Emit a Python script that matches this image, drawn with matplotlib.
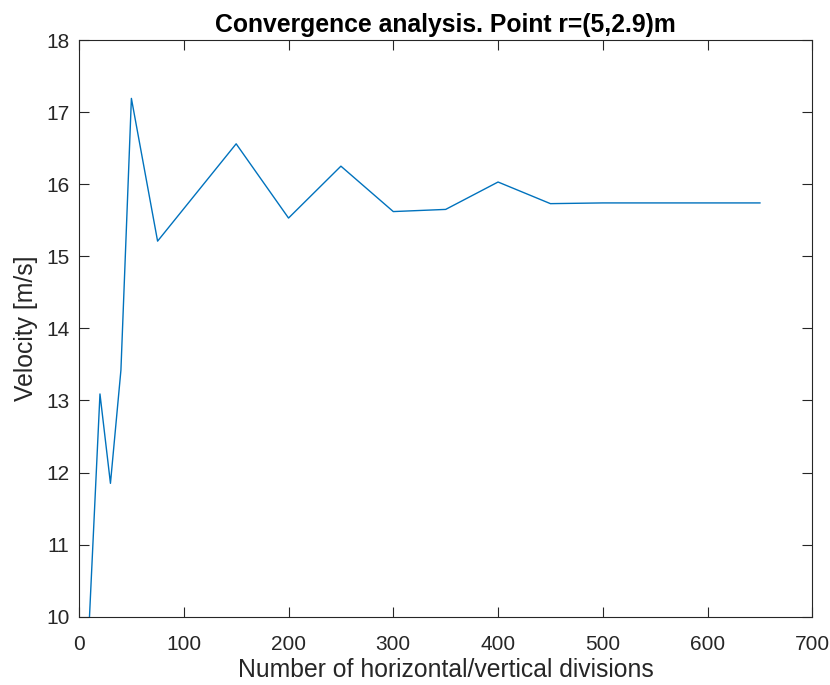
import matplotlib
matplotlib.use("Agg")
import matplotlib.pyplot as plt

# Mesh refinement study: velocity at r=(5,2.9)m vs. number of divisions
divisions = [10, 20, 30, 40, 50, 75, 150, 200, 250, 300, 350, 400, 450, 500, 650]
velocity = [10.0, 13.09, 11.85, 13.42, 17.19, 15.21, 16.56, 15.53, 16.25,
            15.62, 15.65, 16.03, 15.73, 15.74, 15.74]

x_ticks = [0, 100, 200, 300, 400, 500, 600, 700]
y_ticks = [10, 11, 12, 13, 14, 15, 16, 17, 18]

AX_COLOR = "#262626"

plt.rcParams["font.family"] = ["Liberation Sans", "DejaVu Sans"]

fig = plt.figure(figsize=(8.3, 6.85), dpi=100)
fig.patch.set_facecolor("white")
ax = fig.add_axes([0.0952, 0.0997, 0.8835, 0.8419])

ax.plot(divisions, velocity, color="#0072BD", linewidth=1.0)

ax.set_xlim(0, 700)
ax.set_ylim(10, 18)
ax.set_xticks(x_ticks)
ax.set_yticks(y_ticks)
ax.tick_params(direction="in", length=7, width=0.8, top=True, right=True,
               colors=AX_COLOR, labelsize=15)
ax.tick_params(axis="x", pad=13)
ax.tick_params(axis="y", pad=7)
for spine in ax.spines.values():
    spine.set_edgecolor(AX_COLOR)
    spine.set_linewidth(0.8)

ax.set_xlabel("Number of horizontal/vertical divisions", fontsize=17.8,
              color=AX_COLOR, labelpad=3)
ax.set_ylabel("Velocity [m/s]", fontsize=17.8, color=AX_COLOR, labelpad=6)
ax.set_title("Convergence analysis. Point r=(5,2.9)m", fontsize=17.8,
             fontweight="bold", color="black", pad=6)

fig.savefig("out.png", dpi=100, facecolor="white")
